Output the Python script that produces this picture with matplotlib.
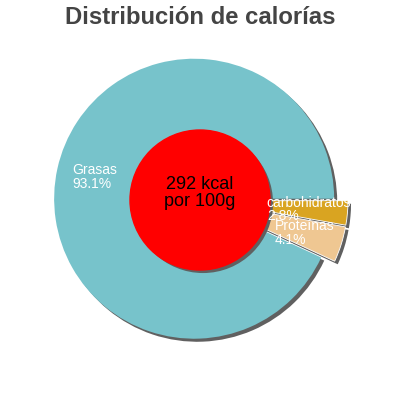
import matplotlib.pyplot as plt
import matplotlib.patheffects as pe
from matplotlib.patches import Circle

plt.rcParams['font.family'] = ['Liberation Sans', 'DejaVu Sans']

labels = ['carbohidratos', 'Proteínas', 'Grasas']
values = [2.8, 4.1, 93.1]
colors = ['#d9a421', '#efc792', '#77c3cb']
explode = [8, 8, 6]
kcal = 292

fig = plt.figure(figsize=(4, 4), dpi=100)
ax = fig.add_axes([0, 0, 1, 1])

shadow = [pe.SimplePatchShadow(offset=(2.2, -2.2), shadow_rgbFace='#606060', alpha=1), pe.Normal()]

texts = ['%s\n%.1f%%' % (l, v) for l, v in zip(labels, values)]
wedges, txts = ax.pie(values, labels=texts, colors=colors, explode=explode,
                      startangle=0, counterclock=False, radius=140, center=(200, 200),
                      labeldistance=0.725, frame=True,
                      textprops=dict(color='white', fontsize=10))
ax.set_xlim(0, 400)
ax.set_ylim(0, 400)
ax.set_aspect('equal')
ax.axis('off')
for w in wedges:
    w.set_path_effects(shadow)
    w.set_edgecolor('white')
    w.set_linewidth(0.6)
wedges[2].set_zorder(0.5)
wedges[2].set_linewidth(0)
for t in txts:
    t.set_ha('center')
    t.set_multialignment('left')
    t.set_linespacing(0.95)
    t.set_zorder(5)

hole = Circle((200, 200), 70, color='#ff0000', zorder=3)
hole.set_path_effects(shadow)
ax.add_patch(hole)
ax.text(200, 207, '%d kcal\npor 100g' % kcal, ha='center', va='center',
        fontsize=13, color='black', zorder=4, linespacing=1.0)

fig.text(0.5, 0.955, 'Distribución de calorías', ha='center', va='center',
         fontsize=17.2, fontweight='bold', color='#444444')

fig.savefig('out.png', dpi=100)
